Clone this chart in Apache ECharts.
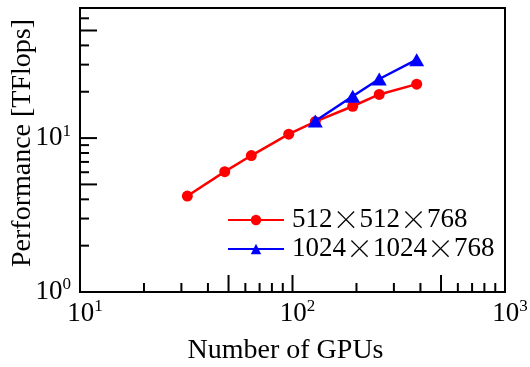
<!DOCTYPE html>
<html>
<head>
<meta charset="utf-8">
<script src="https://cdn.jsdelivr.net/npm/echarts@6/dist/echarts.min.js"></script>
<style>
    html, body { margin: 0; padding: 0; background: #fff; }
    #myChart { width: 530px; height: 367px; }
</style>
</head>
<body>
<div id="myChart"></div>
<script>
// GPU counts and measured performance (TFlops)
var gpus512 = [32, 48, 64, 96, 128, 192, 256, 384];
var perf512 = [4.2, 6.05, 7.7, 10.6, 12.8, 16.1, 19.2, 22.4];
var gpus1024 = [128, 192, 256, 384];
var perf1024 = [12.9, 18.7, 24.2, 32.3];
var legendNames = ['512×512×768', '1024×1024×768'];

// tick marks (log axes, drawn inside the frame)
var xMinorTicks = [20, 30, 40, 60, 70, 80, 90, 200, 300, 400, 600, 700, 800, 900];
var xMajorTicks = [50, 100, 500];
var yMinorTicks = [2, 3, 4, 6, 7, 8, 9, 20, 30, 40, 60];
var yMajorTicks = [5, 10, 50];

var xMin = 10, xMax = 1000, yMin = 1, yMax = 70;
var serif = 'Liberation Serif';

function zip(a, b) {
    return a.map(function (v, i) { return [v, b[i]]; });
}

// 10^n label with superscript
function powLabel(v) {
    var e = Math.log10(v);
    if (Math.abs(e - Math.round(e)) > 1e-6) return '';
    return '{b|10}{s|' + Math.round(e) + '}';
}
var powRich = {
    b: { fontSize: 27, fontFamily: serif, color: '#000' },
    s: { fontSize: 17, fontFamily: serif, color: '#000', padding: [0, 0, 14, 0] }
};

var xTickData = xMinorTicks.map(function (v) { return [v, yMin, 9]; })
    .concat(xMajorTicks.map(function (v) { return [v, yMin, 17]; }));
var yTickData = yMinorTicks.map(function (v) { return [xMin, v, 9]; })
    .concat(yMajorTicks.map(function (v) { return [xMin, v, 17]; }));

function tickRender(dir) {
    return function (params, api) {
        var p = api.coord([api.value(0), api.value(1)]);
        var len = api.value(2);
        var end = dir === 'x' ? [p[0], p[1] - len] : [p[0] + len, p[1]];
        return {
            type: 'line',
            shape: { x1: p[0], y1: p[1], x2: end[0], y2: end[1] },
            style: { stroke: '#000', lineWidth: 2 }
        };
    };
}

var myChart = echarts.init(document.getElementById('myChart'));
var option = {
    backgroundColor: '#fff',
    animation: false,
    grid: {
        left: 80,
        right: 25,
        top: 8,
        bottom: 75,
        outerBoundsMode: 'none',
        containLabel: false,
        show: true,
        borderColor: '#000',
        borderWidth: 2,
        backgroundColor: 'transparent'
    },
    legend: {
        orient: 'vertical',
        left: 227,
        top: 206,
        padding: 0,
        itemWidth: 56,
        itemHeight: 13,
        itemGap: 1,
        data: legendNames,
        formatter: function (name) {
            return name.replace(/×/g, '{x|×}');
        },
        textStyle: {
            fontSize: 27,
            fontFamily: serif,
            color: '#000',
            lineHeight: 28,
            padding: [0, 0, 0, 3],
            rich: {
                x: { fontSize: 27, fontFamily: 'Noto Sans CJK JP', color: '#000', fontWeight: 200 }
            }
        }
    },
    xAxis: {
        type: 'log',
        logBase: 10,
        min: xMin,
        max: xMax,
        name: 'Number of GPUs',
        nameLocation: 'middle',
        nameGap: 45,
        nameMoveOverlap: false,
        nameTextStyle: { fontSize: 28, fontFamily: serif, color: '#000', padding: [0, 14, 0, 0] },
        axisLine: { show: true, lineStyle: { color: '#000', width: 2 } },
        axisTick: { show: false },
        splitLine: { show: false },
        axisLabel: {
            margin: 6,
            formatter: powLabel,
            rich: powRich,
            padding: [0, 0, 0, 10]
        }
    },
    yAxis: {
        type: 'log',
        logBase: 10,
        min: yMin,
        max: yMax,
        name: 'Performance [TFlops]',
        nameLocation: 'middle',
        nameGap: 43,
        nameMoveOverlap: false,
        nameTextStyle: { fontSize: 28, fontFamily: serif, color: '#000', padding: [0, 0, 0, 14] },
        axisLine: { show: true, lineStyle: { color: '#000', width: 2 } },
        axisTick: { show: false },
        splitLine: { show: false },
        axisLabel: {
            margin: 9,
            formatter: powLabel,
            rich: powRich
        }
    },
    series: [
        {
            name: legendNames[0],
            type: 'line',
            data: zip(gpus512, perf512),
            symbol: 'circle',
            symbolSize: 11,
            itemStyle: { color: '#ff0000' },
            lineStyle: { color: '#ff0000', width: 2.5 },
            z: 3
        },
        {
            name: legendNames[1],
            type: 'line',
            data: zip(gpus1024, perf1024),
            symbol: 'triangle',
            symbolSize: [15, 13],
            itemStyle: { color: '#0000ff' },
            lineStyle: { color: '#0000ff', width: 2.5 },
            z: 4
        },
        {
            type: 'custom',
            silent: true,
            renderItem: tickRender('x'),
            data: xTickData,
            encode: { x: 0, y: 1 },
            clip: false,
            z: 1
        },
        {
            type: 'custom',
            silent: true,
            renderItem: tickRender('y'),
            data: yTickData,
            encode: { x: 0, y: 1 },
            clip: false,
            z: 1
        }
    ]
};
myChart.setOption(option);
</script>
</body>
</html>
